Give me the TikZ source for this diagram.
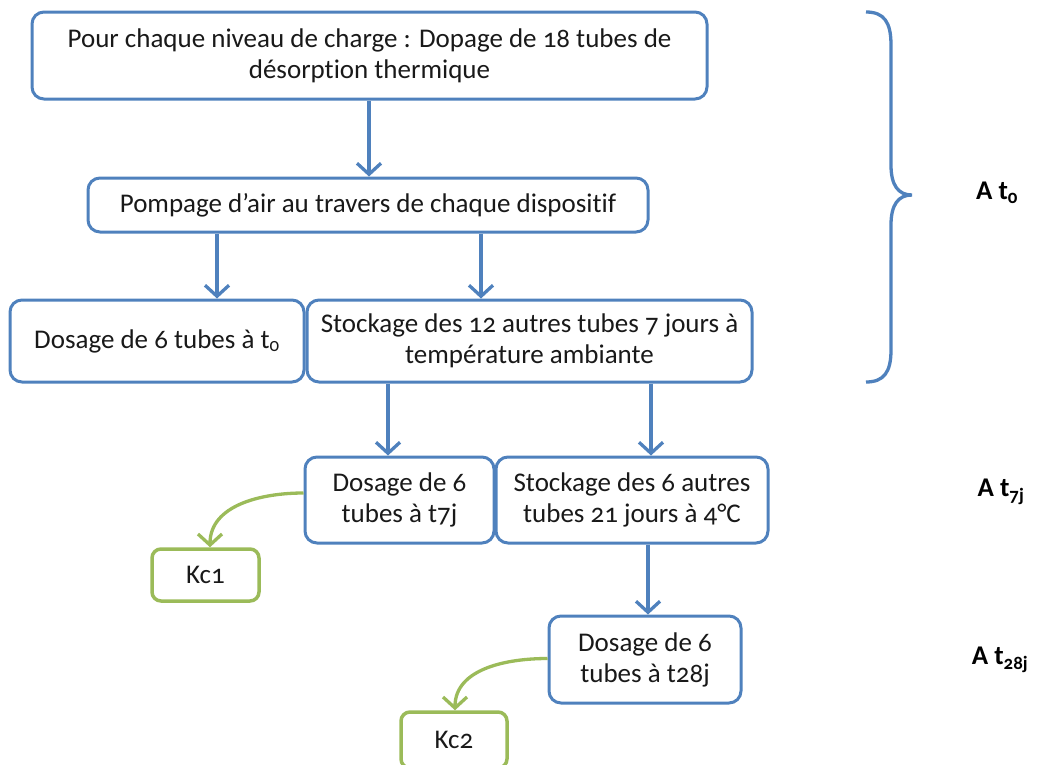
\documentclass[tikz,border=0pt]{standalone}
\usepackage{fontspec}
\setmainfont{Carlito}[Numbers=OldStyle, Ligatures=NoCommon]
\usetikzlibrary{arrows.meta,calc}
\definecolor{bblue}{HTML}{4F81BD}
\definecolor{bgreen}{HTML}{9BBB59}
\tikzset{
  bbox/.style={draw=bblue, line width=3pt, rounded corners=12pt, align=center, inner sep=0pt, font=\fontsize{27}{31}\selectfont, text=black!90},
  gbox/.style={draw=bgreen, line width=3.5pt, rounded corners=9pt, align=center, inner sep=0pt, font=\fontsize{27}{31}\selectfont, text=black!90},
  arr/.style={draw=bblue, line width=3.3pt, -{Straight Barb[length=11pt,width=24pt,line width=3.3pt]}},
  garr/.style={draw=bgreen, line width=3.3pt, -{Straight Barb[length=11pt,width=24pt,line width=3.3pt]}},
  lab/.style={font=\fontsize{27}{30}\selectfont\bfseries, text=black, inner sep=0pt},
}
\begin{document}
\begin{tikzpicture}[x=1pt,y=-1pt]
\useasboundingbox (0,0) rectangle (1037,764);
\node[bbox, minimum width=675pt, minimum height=87pt] (top) at (369.5,55.5) {Pour chaque niveau de charge : Dopage de 18 tubes de\\ désorption thermique};
\node[bbox, minimum width=560pt, minimum height=54pt] (pomp) at (368,205) {Pompage d’air au travers de chaque dispositif};
\node[bbox, minimum width=294pt, minimum height=82pt] (d0) at (157,341) {Dosage de 6 tubes à t\textsubscript{0}};
\node[bbox, minimum width=445pt, minimum height=82pt] (st12) at (529.5,341) {Stockage des 12 autres tubes 7 jours à\\ température ambiante};
\node[bbox, minimum width=189pt, minimum height=86pt] (d7) at (399.5,500) {Dosage de 6\\ tubes à t7j};
\node[bbox, minimum width=272pt, minimum height=86pt] (st6) at (632,500) {Stockage des 6 autres\\ tubes 21 jours à 4°C};
\node[gbox, minimum width=107pt, minimum height=52pt] (kc1) at (205.5,575) {Kc1};
\node[bbox, minimum width=192pt, minimum height=87pt] (d28) at (645,659.5) {Dosage de 6\\ tubes à t28j};
\node[gbox, minimum width=106pt, minimum height=56pt] (kc2) at (454,740) {Kc2};

\draw[arr] (369,0 |- top.south) -- (369,0 |- pomp.north);
\draw[arr] (217,0 |- pomp.south) -- (217,0 |- d0.north);
\draw[arr] (481,0 |- pomp.south) -- (481,0 |- st12.north);
\draw[arr] (388,0 |- st12.south) -- (388,0 |- d7.north);
\draw[arr] (651,0 |- st12.south) -- (651,0 |- st6.north);
\draw[arr] (648,0 |- st6.south) -- (648,0 |- d28.north);

\draw[garr] ([yshift=7pt]d7.west) to[out=180,in=90] (210,0 |- kc1.north);
\draw[garr] ([yshift=1pt]d28.west) to[out=180,in=90] (455,0 |- kc2.north);

\coordinate (bt) at (866,12);
\coordinate (bm) at (912,195);
\coordinate (bb) at (866,382);
\draw[bblue, line width=3.3pt] (bt) .. controls (884,12) and (891,22) .. (891,45) -- (891,165)
  .. controls (891,185) and (898,195) .. (bm)
  .. controls (898,195) and (891,205) .. (891,225) -- (891,350)
  .. controls (891,372) and (884,382) .. (bb);

\node[lab] (l0) at (997,193) {A t\textsubscript{0}};
\node[lab] (l7) at (1001,492) {A t\textsubscript{7j}};
\node[lab] (l28) at (1000,660) {A t\textsubscript{28j}};
\end{tikzpicture}
\end{document}
